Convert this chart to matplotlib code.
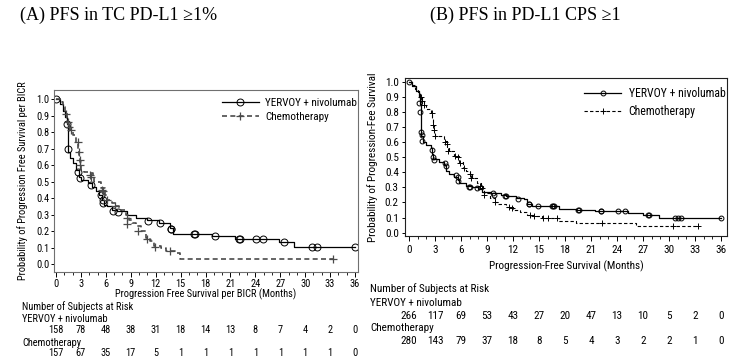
import matplotlib
matplotlib.use("Agg")
import matplotlib.pyplot as plt
import matplotlib.font_manager as fm
from matplotlib.lines import Line2D
from matplotlib.transforms import blended_transform_factory
from matplotlib.ticker import MultipleLocator

# ---- panel A: PFS in TC PD-L1 >=1% ----
a_yn_t = [0, 0.5, 0.8, 1.1, 1.3, 1.4, 1.5, 1.7, 2.0, 2.4, 2.8, 3.0, 3.9, 4.3, 4.8, 5.2, 5.5, 5.8,
          6.2, 6.8, 7.4, 8.6, 9.6, 11.0, 12.4, 13.7, 14.1, 18.8, 21.5, 26.8, 28.7, 36.0]
a_yn_s = [1.0, 0.97, 0.93, 0.89, 0.85, 0.75, 0.68, 0.64, 0.61, 0.57, 0.53, 0.51, 0.49, 0.47, 0.44,
          0.42, 0.39, 0.36, 0.35, 0.33, 0.32, 0.30, 0.28, 0.265, 0.25, 0.22, 0.18, 0.17, 0.155,
          0.135, 0.105, 0.105]
a_yn_cens_t = [0, 1.3, 1.5, 2.7, 2.9, 4.2, 5.4, 5.6, 5.65, 6.9, 7.5, 11.1, 12.5, 13.8, 13.9, 16.6,
               16.7, 19.2, 22.0, 22.1, 24.1, 24.9, 27.5, 30.8, 31.4, 36.0]
a_yn_cens_s = [1.0, 0.85, 0.70, 0.56, 0.52, 0.48, 0.42, 0.39, 0.37, 0.32, 0.315, 0.26, 0.25, 0.21,
               0.21, 0.18, 0.18, 0.17, 0.155, 0.155, 0.155, 0.155, 0.135, 0.105, 0.105, 0.105]

a_ch_t = [0, 0.7, 0.9, 1.1, 1.3, 1.5, 1.7, 2.0, 2.4, 2.7, 2.8, 2.9, 3.0, 3.4, 4.0, 4.4, 4.6, 5.4,
          5.9, 6.2, 6.7, 7.1, 7.6, 8.4, 8.8, 9.1, 9.6, 10.2, 10.8, 11.3, 11.8, 12.6, 13.3, 14.3,
          14.9, 33.4]
a_ch_s = [1.0, 0.98, 0.95, 0.92, 0.89, 0.85, 0.81, 0.78, 0.74, 0.70, 0.66, 0.62, 0.57, 0.56, 0.55,
          0.52, 0.50, 0.46, 0.42, 0.39, 0.37, 0.35, 0.33, 0.30, 0.27, 0.25, 0.23, 0.20, 0.16, 0.14,
          0.11, 0.10, 0.08, 0.07, 0.03, 0.03]
a_ch_cens_t = [1.2, 1.4, 1.6, 1.8, 2.6, 2.8, 2.85, 2.95, 4.1, 4.2, 5.5, 5.6, 6.2, 7.1, 8.5, 8.6,
               9.9, 11.0, 11.9, 13.7, 33.4]
a_ch_cens_s = [0.91, 0.86, 0.83, 0.81, 0.74, 0.68, 0.63, 0.60, 0.54, 0.525, 0.45, 0.445, 0.39,
               0.35, 0.28, 0.245, 0.20, 0.15, 0.105, 0.08, 0.03]

a_risk_yn = [158, 78, 48, 38, 31, 18, 14, 13, 8, 7, 4, 2, 0]
a_risk_ch = [157, 67, 35, 17, 5, 1, 1, 1, 1, 1, 1, 1, 0]

# ---- panel B: PFS in PD-L1 CPS >=1 ----
b_yn_t = [0, 0.4, 0.8, 1.2, 1.3, 1.4, 1.6, 2.0, 2.5, 2.7, 2.8, 3.5, 4.0, 4.3, 4.6, 5.2, 5.6, 5.8,
          6.6, 7.3, 8.0, 8.4, 9.5, 10.6, 11.2, 12.4, 13.3, 13.6, 14.2, 16.7, 17.3, 19.3, 21.5,
          25.3, 27.0, 28.8, 36.0]
b_yn_s = [1.0, 0.97, 0.94, 0.90, 0.85, 0.64, 0.60, 0.58, 0.56, 0.52, 0.49, 0.47, 0.45, 0.41, 0.39,
          0.37, 0.35, 0.33, 0.31, 0.30, 0.29, 0.27, 0.26, 0.25, 0.24, 0.23, 0.22, 0.19, 0.18,
          0.175, 0.16, 0.15, 0.145, 0.13, 0.12, 0.10, 0.10]
b_yn_cens_t = [0, 1.2, 1.3, 1.4, 1.45, 1.5, 2.7, 2.8, 2.9, 4.2, 4.3, 5.4, 5.6, 5.7, 6.9, 7.0, 7.8,
               9.7, 9.8, 11.1, 11.2, 12.6, 13.8, 13.9, 14.9, 16.5, 16.6, 16.7, 19.5, 19.6, 22.1,
               22.2, 24.1, 24.9, 27.6, 27.7, 30.7, 31.0, 31.4, 36.0]
b_yn_cens_s = [1.0, 0.86, 0.80, 0.67, 0.65, 0.61, 0.55, 0.50, 0.48, 0.46, 0.44, 0.38, 0.37, 0.34,
               0.305, 0.305, 0.295, 0.26, 0.25, 0.24, 0.24, 0.22, 0.19, 0.19, 0.18, 0.175, 0.175,
               0.175, 0.15, 0.15, 0.145, 0.145, 0.145, 0.145, 0.12, 0.12, 0.10, 0.10, 0.10, 0.10]

b_ch_t = [0, 0.3, 0.7, 1.0, 1.3, 1.5, 1.7, 2.0, 2.5, 2.7, 2.8, 2.9, 3.0, 4.0, 4.4, 4.6, 5.2, 5.8,
          6.2, 6.6, 7.0, 7.3, 7.8, 8.3, 8.5, 8.7, 9.3, 9.9, 10.3, 11.2, 12.0, 12.8, 13.6, 14.3,
          15.3, 17.3, 19.3, 26.2, 33.4]
b_ch_s = [1.0, 0.98, 0.95, 0.93, 0.90, 0.87, 0.845, 0.82, 0.79, 0.75, 0.71, 0.67, 0.64, 0.61,
          0.57, 0.54, 0.51, 0.47, 0.43, 0.41, 0.39, 0.36, 0.33, 0.31, 0.29, 0.26, 0.23, 0.205,
          0.19, 0.17, 0.15, 0.14, 0.12, 0.11, 0.10, 0.08, 0.066, 0.046, 0.046]
b_ch_cens_t = [1.4, 1.5, 1.7, 2.6, 2.8, 2.9, 3.0, 4.2, 4.4, 4.5, 5.3, 5.7, 5.9, 6.3, 7.0, 7.2,
               8.2, 8.4, 8.6, 9.9, 11.5, 11.9, 14.0, 14.4, 15.5, 16.0, 17.1, 22.3, 30.5, 33.4]
b_ch_cens_s = [0.90, 0.87, 0.845, 0.79, 0.71, 0.68, 0.64, 0.60, 0.59, 0.54, 0.51, 0.50, 0.46,
               0.43, 0.39, 0.36, 0.31, 0.295, 0.25, 0.205, 0.17, 0.165, 0.12, 0.11, 0.10, 0.10,
               0.10, 0.066, 0.046, 0.046]

b_risk_yn = [266, 117, 69, 53, 43, 27, 20, 47, 13, 10, 5, 2, 0]
b_risk_ch = [280, 143, 79, 37, 18, 8, 5, 4, 3, 2, 2, 1, 0]

risk_months = list(range(0, 37, 3))


def pick_narrow_font():
    # the reference uses an Arial Narrow-like face; take whatever condensed sans is around
    fonts = [f for f in fm.fontManager.ttflist if f.style == 'normal'
             and f.weight in (400, 'normal', 'regular', 'book')]
    names = {f.name for f in fonts}
    for nm in ['Liberation Sans Narrow', 'Arial Narrow', 'Roboto Condensed',
               'Noto Sans Condensed', 'Open Sans Condensed', 'DejaVu Sans Condensed']:
        if nm in names:
            return nm, 'normal', 1.0
    for nm in ['Noto Sans', 'Roboto', 'Open Sans', 'DejaVu Sans', 'Inter']:
        for f in fonts:
            if f.name == nm and f.stretch in ('condensed', 'semi-condensed', 'extra-condensed'):
                return nm, f.stretch, 1.0
    return 'Liberation Sans', 'normal', 0.88


narrow, narrow_stretch, fscale = pick_narrow_font()
plt.rcParams['font.family'] = [narrow, 'DejaVu Sans']
plt.rcParams['font.stretch'] = narrow_stretch

W, H = 749, 364
fig = plt.figure(figsize=(W / 100, H / 100), dpi=100)


def fy(py):
    # pixel row from top -> figure fraction
    return 1 - py / H


def add_axes(left, top, right, bottom):
    return fig.add_axes([left / W, 1 - bottom / H, (right - left) / W, (bottom - top) / H])


def km_panel(ax, cfg):
    fs = cfg['fs'] * fscale
    ax.step(cfg['yn_t'], cfg['yn_s'], where='post', color='black', lw=0.9)
    ax.plot(cfg['yn_ct'], cfg['yn_cs'], ls='none', marker='o', ms=cfg['ms_o'],
            mfc='none', mec='black', mew=0.7)
    ax.step(cfg['ch_t'], cfg['ch_s'], where='post', color=cfg['ch_col'], lw=cfg['ch_lw'],
            ls=(0, (3, 2)))
    ax.plot(cfg['ch_ct'], cfg['ch_cs'], ls='none', marker='+', ms=cfg['ms_p'],
            mec=cfg['ch_col'], mew=cfg['mew_p'])

    ax.set_xlim(cfg['xlim'])
    ax.set_ylim(cfg['ylim'])
    ax.xaxis.set_major_locator(MultipleLocator(3))
    ax.xaxis.set_minor_locator(MultipleLocator(1))
    ax.yaxis.set_major_locator(MultipleLocator(0.1))
    ax.yaxis.set_major_formatter(plt.FuncFormatter(lambda v, p: f"{v:.1f}"))
    ax.tick_params(axis='x', which='major', direction='out', length=3.5, width=0.7,
                   pad=cfg['xpad'], labelsize=fs)
    ax.tick_params(axis='x', which='minor', direction='out', length=2, width=0.6)
    ax.tick_params(axis='y', direction='out', length=2.5, width=0.7, pad=cfg['ypad'],
                   labelsize=fs)
    for sp in ax.spines.values():
        sp.set_color(cfg['spine'])
        sp.set_linewidth(0.8)
    ax.set_ylabel(cfg['ylabel'], fontsize=fs)
    ax.yaxis.set_label_coords(cfg['ylab_x'], 0.5)

    handles = [Line2D([], [], color='black', lw=0.9, marker='o', ms=cfg['ms_o'],
                      mfc='none', mec='black', mew=0.7),
               Line2D([], [], color=cfg['ch_col'], lw=cfg['ch_lw'], ls=(0, (3, 2)),
                      marker='+', ms=cfg['ms_p'], mec=cfg['ch_col'], mew=cfg['mew_p'])]
    ax.legend(handles, ['YERVOY + nivolumab', 'Chemotherapy'], loc='upper left',
              bbox_to_anchor=cfg['leg_xy'], frameon=False, fontsize=fs + 0.5,
              handlelength=cfg['hl'], handletextpad=0.6, labelspacing=cfg['leg_sp'],
              borderpad=0, borderaxespad=0, numpoints=1)

    # x label, risk table
    fig.text(cfg['xlab_x'] / W, fy(cfg['xlab_y']), cfg['xlabel'], fontsize=fs,
             ha='center', va='center')
    tr = blended_transform_factory(ax.transData, fig.transFigure)
    rows = cfg['rows']
    fig.text(cfg['tab_x'] / W, fy(rows[0]), 'Number of Subjects at Risk', fontsize=fs,
             va='center')
    fig.text(cfg['tab_x'] / W, fy(rows[1]), 'YERVOY + nivolumab', fontsize=fs, va='center')
    fig.text(cfg['tab_x'] / W, fy(rows[3]), 'Chemotherapy', fontsize=fs, va='center')
    for m, n1, n2 in zip(risk_months, cfg['risk_yn'], cfg['risk_ch']):
        ax.text(m, fy(rows[2]), str(n1), transform=tr, ha='center', va='center', fontsize=fs)
        ax.text(m, fy(rows[4]), str(n2), transform=tr, ha='center', va='center', fontsize=fs)


ax_a = add_axes(54, 90, 358, 272)
km_panel(ax_a, dict(
    yn_t=a_yn_t, yn_s=a_yn_s, yn_ct=a_yn_cens_t, yn_cs=a_yn_cens_s,
    ch_t=a_ch_t, ch_s=a_ch_s, ch_ct=a_ch_cens_t, ch_cs=a_ch_cens_s,
    ms_o=5, ms_p=6, mew_p=0.9, ch_col='#4a4a4a', ch_lw=1.2,
    xlim=(-0.24, 36.36), ylim=(-0.048, 1.055), fs=7.5, xpad=1.5, ypad=1,
    spine='#707070', ylabel='Probability of Progression Free Survival per BICR', ylab_x=-0.085,
    leg_xy=(0.553, 0.955), leg_sp=0.35, hl=3.3,
    xlabel='Progression Free Survival per BICR (Months)', xlab_x=206, xlab_y=294,
    tab_x=22, rows=[307, 319, 330, 343, 353], risk_yn=a_risk_yn, risk_ch=a_risk_ch))

ax_b = add_axes(405, 78, 727, 236)
km_panel(ax_b, dict(
    yn_t=b_yn_t, yn_s=b_yn_s, yn_ct=b_yn_cens_t, yn_cs=b_yn_cens_s,
    ch_t=b_ch_t, ch_s=b_ch_s, ch_ct=b_ch_cens_t, ch_cs=b_ch_cens_s,
    ms_o=3.5, ms_p=4.5, mew_p=0.7, ch_col='black', ch_lw=0.8,
    xlim=(-0.46, 36.69), ylim=(-0.022, 1.0245), fs=8, xpad=3, ypad=2,
    spine='#202020', ylabel='Probability of Progression-Fee Survival', ylab_x=-0.085,
    leg_xy=(0.555, 0.94), leg_sp=0.4, hl=3.2,
    xlabel='Progression-Free Survival (Months)', xlab_x=566, xlab_y=266,
    tab_x=370, rows=[289, 303, 316, 328, 341], risk_yn=b_risk_yn, risk_ch=b_risk_ch))

serif = ['Liberation Serif', 'DejaVu Serif']
fig.text(20 / W, fy(15), '(A) PFS in TC PD-L1 \u22651%', family=serif, fontsize=13,
         va='center', stretch='normal')
fig.text(430 / W, fy(15), '(B) PFS in PD-L1 CPS \u22651', family=serif, fontsize=13,
         va='center', stretch='normal')

fig.savefig('out.png', dpi=100)
